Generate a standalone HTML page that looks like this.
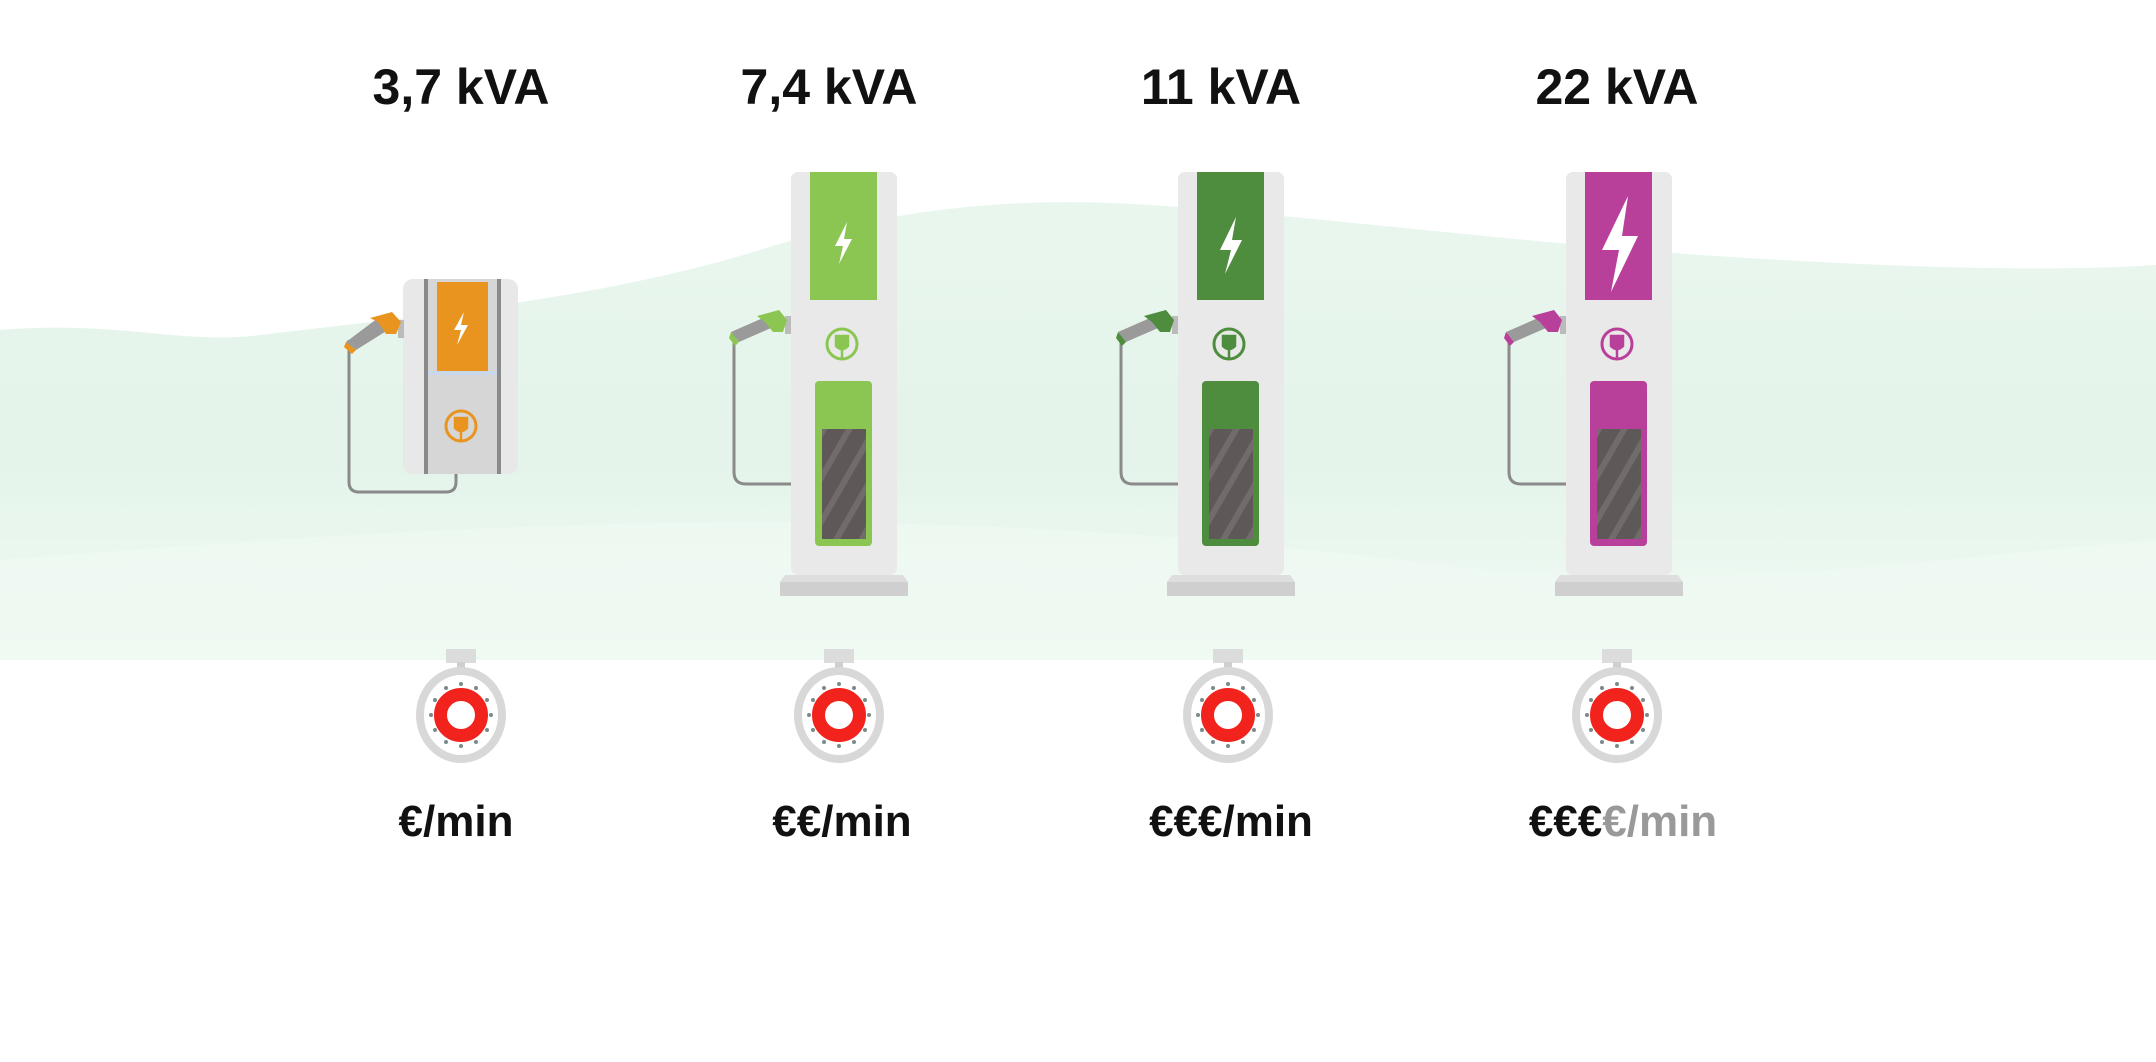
<!DOCTYPE html>
<html><head><meta charset="utf-8"><style>
html,body{margin:0;padding:0;background:#fff;}
svg{display:block;}
text{font-family:"Liberation Sans",sans-serif;font-weight:bold;}
</style></head><body>
<svg width="2156" height="1062" viewBox="0 0 2156 1062" xmlns="http://www.w3.org/2000/svg">
<defs>
<linearGradient id="mist" x1="0" y1="0" x2="0" y2="1">
<stop offset="0" stop-color="#e9f6ee"/><stop offset="0.55" stop-color="#e4f4ea"/><stop offset="1" stop-color="#f1faf4"/>
</linearGradient>
<pattern id="scr" width="22" height="22" patternUnits="userSpaceOnUse" patternTransform="rotate(30)">
<rect width="22" height="22" fill="#5f5858"/><rect width="6" height="22" fill="#716b6b"/>
</pattern>
<g id="watch">
<rect x="-15" y="-66" width="30" height="14" fill="#dcdcdc"/>
<rect x="-4" y="-53" width="8" height="10" fill="#cfcfcf"/>
<ellipse cx="0" cy="0" rx="41" ry="44" fill="#fff" stroke="#d8d8d8" stroke-width="8"/>
<g fill="#7a8a8a">
<circle cx="0" cy="-31" r="2"/><circle cx="0" cy="31" r="2"/><circle cx="-30" cy="0" r="2"/><circle cx="30" cy="0" r="2"/>
<circle cx="15" cy="-27" r="2"/><circle cx="-15" cy="-27" r="2"/><circle cx="15" cy="27" r="2"/><circle cx="-15" cy="27" r="2"/>
<circle cx="26" cy="-15" r="2"/><circle cx="-26" cy="-15" r="2"/><circle cx="26" cy="15" r="2"/><circle cx="-26" cy="15" r="2"/>
</g>
<circle cx="0" cy="0" r="20.5" fill="#fff" stroke="#f2231d" stroke-width="13"/>
</g>
</defs>
<path d="M0 330 C120 320 180 345 260 335 C400 318 600 300 760 250 C880 212 1000 195 1150 205 C1300 215 1500 240 1700 255 C1900 268 2050 272 2156 265 L2156 660 L0 660 Z" fill="url(#mist)"/>
<path d="M0 560 C500 520 900 500 1400 560 C1700 600 1900 560 2156 540 L2156 660 L0 660 Z" fill="#eef9f2" opacity="0.7"/>

<g font-size="50" text-anchor="middle" fill="#111">
<text x="461" y="104">3,7 kVA</text>
<text x="829" y="104">7,4 kVA</text>
<text x="1221" y="104">11 kVA</text>
<text x="1617" y="104">22 kVA</text>
</g>

<!-- wall charger -->
<g>
<path d="M349 340 L349 482 Q349 492 359 492 L446 492 Q456 492 456 482 L456 474" fill="none" stroke="#8a8a8a" stroke-width="3"/>
<rect x="403" y="279" width="115" height="195" rx="10" fill="#e8e8e8"/>
<rect x="426" y="279" width="73" height="195" fill="#d6d6d6"/>
<rect x="424" y="279" width="4" height="195" fill="#8a8a8a"/>
<rect x="497" y="279" width="4" height="195" fill="#8a8a8a"/>
<rect x="437" y="282" width="51" height="89" fill="#e8941f"/>
<rect x="428" y="371" width="69" height="4" fill="#c9d8e8"/>
<path d="M464 312 L454 330 L461 330 L457 345 L468 325 L461 325 Z" fill="#fff"/>
<circle cx="461" cy="426" r="15" fill="none" stroke="#e8941f" stroke-width="3"/>
<path d="M455 418 L455 428 Q461 434 467 428 L467 418 Z M461 432 L461 441" fill="#e8941f" stroke="#e8941f" stroke-width="2.5"/>
<rect x="398" y="320" width="6" height="18" fill="#bbb"/>
<path d="M346 342 L378 318 L388 330 L356 350 Z" fill="#9a9a9a"/>
<path d="M370 318 L392 312 L401 322 L396 334 L386 334 L378 322 Z" fill="#e8941f"/>
<path d="M346 342 L356 350 L352 354 L344 347 Z" fill="#e8941f"/>
</g>

<!-- pillars -->
<g transform="translate(791,172)">
<path d="M-57 160 L-57 300 Q-57 312 -45 312 L0 312" fill="none" stroke="#8a8a8a" stroke-width="3"/>
<rect x="0" y="0" width="106" height="403" rx="7" fill="#e9e9e9"/>
<rect x="19" y="0" width="67" height="128" fill="#8bc653"/>
<path d="M56 50 L44 74 L52 74 L48 92 L61 67 L53 67 Z" fill="#fff"/>
<circle cx="51" cy="172" r="15" fill="none" stroke="#8bc653" stroke-width="3"/>
<path d="M45 164 L45 174 Q51 180 57 174 L57 164 Z M51 178 L51 187" fill="#8bc653" stroke="#8bc653" stroke-width="2.5"/>
<rect x="24" y="209" width="57" height="165" rx="4" fill="#8bc653"/>
<rect x="31" y="257" width="44" height="110" fill="url(#scr)"/>
<rect x="-11" y="410" width="128" height="14" fill="#cfcfcf"/>
<path d="M-6 403 L112 403 L117 410 L-11 410 Z" fill="#dedede"/>
<rect x="-6" y="144" width="6" height="18" fill="#bbb"/>
<path d="M-60 160 L-28 146 L-20 156 L-52 170 Z" fill="#9a9a9a"/>
<path d="M-34 144 L-12 138 L-4 148 L-8 160 L-18 160 L-26 150 Z" fill="#8bc653"/>
<path d="M-60 160 L-52 170 L-56 174 L-62 166 Z" fill="#8bc653"/>
</g>
<g transform="translate(1178,172)">
<path d="M-57 160 L-57 300 Q-57 312 -45 312 L0 312" fill="none" stroke="#8a8a8a" stroke-width="3"/>
<rect x="0" y="0" width="106" height="403" rx="7" fill="#e9e9e9"/>
<rect x="19" y="0" width="67" height="128" fill="#4e8c3e"/>
<path d="M58 45 L42 78 L53 78 L47 102 L64 68 L54 68 Z" fill="#fff"/>
<circle cx="51" cy="172" r="15" fill="none" stroke="#4e8c3e" stroke-width="3"/>
<path d="M45 164 L45 174 Q51 180 57 174 L57 164 Z M51 178 L51 187" fill="#4e8c3e" stroke="#4e8c3e" stroke-width="2.5"/>
<rect x="24" y="209" width="57" height="165" rx="4" fill="#4e8c3e"/>
<rect x="31" y="257" width="44" height="110" fill="url(#scr)"/>
<rect x="-11" y="410" width="128" height="14" fill="#cfcfcf"/>
<path d="M-6 403 L112 403 L117 410 L-11 410 Z" fill="#dedede"/>
<rect x="-6" y="144" width="6" height="18" fill="#bbb"/>
<path d="M-60 160 L-28 146 L-20 156 L-52 170 Z" fill="#9a9a9a"/>
<path d="M-34 144 L-12 138 L-4 148 L-8 160 L-18 160 L-26 150 Z" fill="#4e8c3e"/>
<path d="M-60 160 L-52 170 L-56 174 L-62 166 Z" fill="#4e8c3e"/>
</g>
<g transform="translate(1566,172)">
<path d="M-57 160 L-57 300 Q-57 312 -45 312 L0 312" fill="none" stroke="#8a8a8a" stroke-width="3"/>
<rect x="0" y="0" width="106" height="403" rx="7" fill="#e9e9e9"/>
<rect x="19" y="0" width="67" height="128" fill="#b9409a"/>
<path d="M62 24 L36 78 L53 78 L45 120 L72 64 L56 64 Z" fill="#fff"/>
<circle cx="51" cy="172" r="15" fill="none" stroke="#b9409a" stroke-width="3"/>
<path d="M45 164 L45 174 Q51 180 57 174 L57 164 Z M51 178 L51 187" fill="#b9409a" stroke="#b9409a" stroke-width="2.5"/>
<rect x="24" y="209" width="57" height="165" rx="4" fill="#b9409a"/>
<rect x="31" y="257" width="44" height="110" fill="url(#scr)"/>
<rect x="-11" y="410" width="128" height="14" fill="#cfcfcf"/>
<path d="M-6 403 L112 403 L117 410 L-11 410 Z" fill="#dedede"/>
<rect x="-6" y="144" width="6" height="18" fill="#bbb"/>
<path d="M-60 160 L-28 146 L-20 156 L-52 170 Z" fill="#9a9a9a"/>
<path d="M-34 144 L-12 138 L-4 148 L-8 160 L-18 160 L-26 150 Z" fill="#b9409a"/>
<path d="M-60 160 L-52 170 L-56 174 L-62 166 Z" fill="#b9409a"/>
</g>

<use href="#watch" x="461" y="715"/>
<use href="#watch" x="839" y="715"/>
<use href="#watch" x="1228" y="715"/>
<use href="#watch" x="1617" y="715"/>

<g font-size="44" text-anchor="middle" fill="#111">
<text x="456" y="836">€/min</text>
<text x="842" y="836">€€/min</text>
<text x="1231" y="836">€€€/min</text>
<text x="1623" y="836">€€€<tspan fill="#999">€/min</tspan></text>
</g>
</svg>
</body></html>
